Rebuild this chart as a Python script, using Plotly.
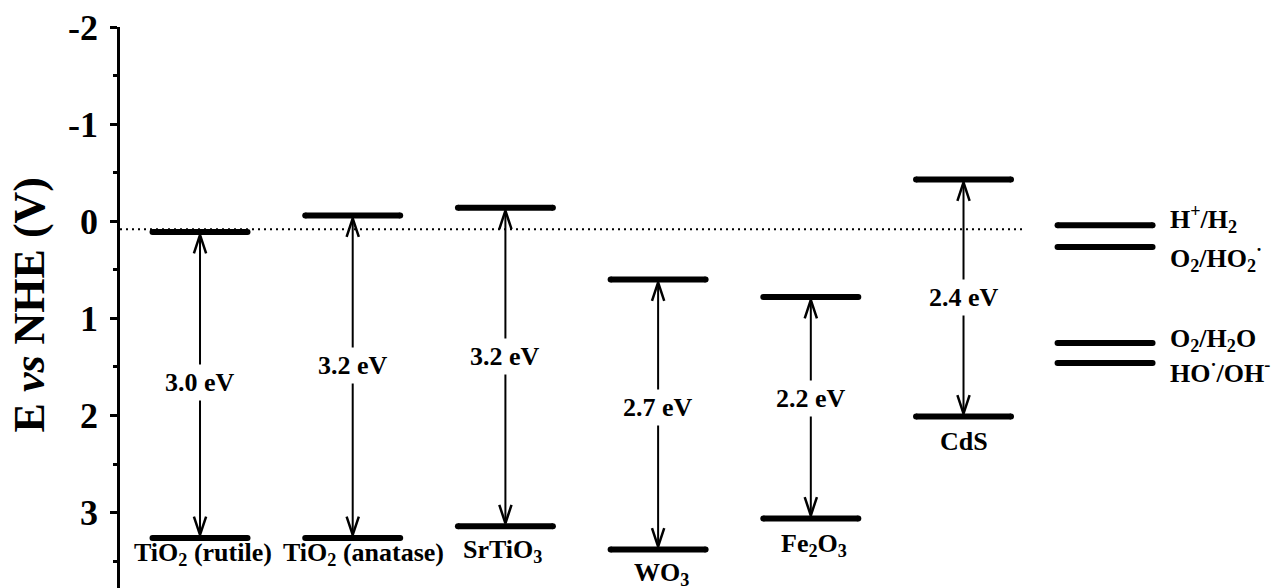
import plotly.graph_objects as go

# ---------------- data ----------------
materials = ["TiO<sub>2</sub> (rutile)", "TiO<sub>2</sub> (anatase)", "SrTiO<sub>3</sub>",
             "WO<sub>3</sub>", "Fe<sub>2</sub>O<sub>3</sub>", "CdS"]
cb_edge = [0.11, -0.06, -0.14, 0.60, 0.78, -0.43]      # conduction band edge, V vs NHE
vb_edge = [3.26, 3.26, 3.14, 3.38, 3.06, 2.01]         # valence band edge, V vs NHE
gap_text = ["3.0 eV", "3.2 eV", "3.2 eV", "2.7 eV", "2.2 eV", "2.4 eV"]
gap_label_E = [1.66, 1.48, 1.39, 1.92, 1.83, 0.78]
name_label_E = [3.43, 3.43, 3.40, 3.63, 3.33, 2.27]
name_label_dx = [0.02, 0.07, -0.02, 0.02, 0.02, 0.0]

redox_names = ["H<sup>+</sup>/H<sub>2</sub>", "O<sub>2</sub>/HO<sub>2</sub><sup>·</sup>",
               "O<sub>2</sub>/H<sub>2</sub>O", "HO<sup>·</sup>/OH<sup>-</sup>"]
redox_E = [0.04, 0.265, 1.253, 1.46]
redox_label_E = [-0.02, 0.38, 1.22, 1.55]

ref_E = 0.082                       # dotted reference level
tick_vals = [-2, -1, 0, 1, 2, 3]
tick_text = ["-2", "-1", "0", "1", "2", "3"]

# ---------------- layout constants ----------------
FONT = "Liberation Serif"
HALF_W = 0.311          # half width of band-edge bars (x units)
REDOX_X = 5.927         # centre of redox level bars
HEAD_L = 0.19           # arrow head length (V)
HEAD_W = 0.04           # arrow head half width (x units)
TIP = 0.03              # gap between arrow tip and bar centre line
X_RANGE = [-0.524, 7.053]
Y_RANGE = [3.776, -2]

xs = list(range(len(materials)))

fig = go.Figure()

# dotted reference line
fig.add_trace(go.Scatter(x=[X_RANGE[0], 5.40], y=[ref_E, ref_E], mode="lines",
                         line=dict(color="black", width=2, dash="2px,4px"),
                         hoverinfo="skip", showlegend=False))

# band edges
bx, by = [], []
for x, c, v in zip(xs, cb_edge, vb_edge):
    bx += [x - HALF_W, x + HALF_W, None, x - HALF_W, x + HALF_W, None]
    by += [c, c, None, v, v, None]
fig.add_trace(go.Scatter(x=bx, y=by, mode="lines+markers",
                         line=dict(color="black", width=6),
                         marker=dict(color="black", size=6),
                         hoverinfo="skip", showlegend=False))

# redox levels
rx, ry = [], []
for e in redox_E:
    rx += [REDOX_X - HALF_W, REDOX_X + HALF_W, None]
    ry += [e, e, None]
fig.add_trace(go.Scatter(x=rx, y=ry, mode="lines+markers",
                         line=dict(color="black", width=6),
                         marker=dict(color="black", size=6),
                         hoverinfo="skip", showlegend=False))

# double-headed arrows
sx, sy = [], []
hx, hy = [], []
for x, c, v in zip(xs, cb_edge, vb_edge):
    top, bot = c + TIP, v - TIP
    sx += [x, x, None]
    sy += [top, bot, None]
    hx += [x - HEAD_W, x, x + HEAD_W, None, x - HEAD_W, x, x + HEAD_W, None]
    hy += [top + HEAD_L, top, top + HEAD_L, None, bot - HEAD_L, bot, bot - HEAD_L, None]
fig.add_trace(go.Scatter(x=sx, y=sy, mode="lines", line=dict(color="black", width=2),
                         hoverinfo="skip", showlegend=False))
fig.add_trace(go.Scatter(x=hx, y=hy, mode="lines", line=dict(color="black", width=2.5),
                         hoverinfo="skip", showlegend=False))

annotations = []
for x, t, e in zip(xs, gap_text, gap_label_E):
    annotations.append(dict(x=x, y=e, xref="x", yref="y", text="<b>%s</b>" % t,
                            showarrow=False, bgcolor="white", borderpad=3,
                            font=dict(family=FONT, size=26, color="black")))
for x, dx, t, e in zip(xs, name_label_dx, materials, name_label_E):
    annotations.append(dict(x=x + dx, y=e, xref="x", yref="y", text="<b>%s</b>" % t,
                            showarrow=False,
                            font=dict(family=FONT, size=26, color="black")))
for t, e in zip(redox_names, redox_label_E):
    annotations.append(dict(x=6.34, y=e, xref="x", yref="y", text="<b>%s</b>" % t,
                            showarrow=False, xanchor="left",
                            font=dict(family=FONT, size=26, color="black")))
annotations.append(dict(x=-0.078, y=0.505, xref="paper", yref="paper",
                        xanchor="center", yanchor="middle",
                        text="<b>E <i>vs</i> NHE (V)</b>", textangle=-90,
                        showarrow=False,
                        font=dict(family=FONT, size=44, color="black")))

fig.update_layout(
    width=1277, height=588,
    margin=dict(l=120, r=0, t=27, b=0),
    paper_bgcolor="white", plot_bgcolor="white",
    showlegend=False,
    annotations=annotations,
    xaxis=dict(range=X_RANGE, visible=False, fixedrange=True),
    yaxis=dict(range=Y_RANGE, showgrid=False, zeroline=False,
               showline=True, linecolor="black", linewidth=2.5,
               ticks="outside", ticklen=7, tickwidth=2.5, tickcolor="black",
               tickvals=tick_vals, ticktext=tick_text,
               tickfont=dict(family=FONT, size=36, color="black", weight="bold"),
               ticklabelstandoff=5,
               minor=dict(dtick=0.5, tick0=0, ticks="outside", ticklen=4,
                          tickwidth=2.5, tickcolor="black", showgrid=False)),
)

fig.write_html("out.html")
